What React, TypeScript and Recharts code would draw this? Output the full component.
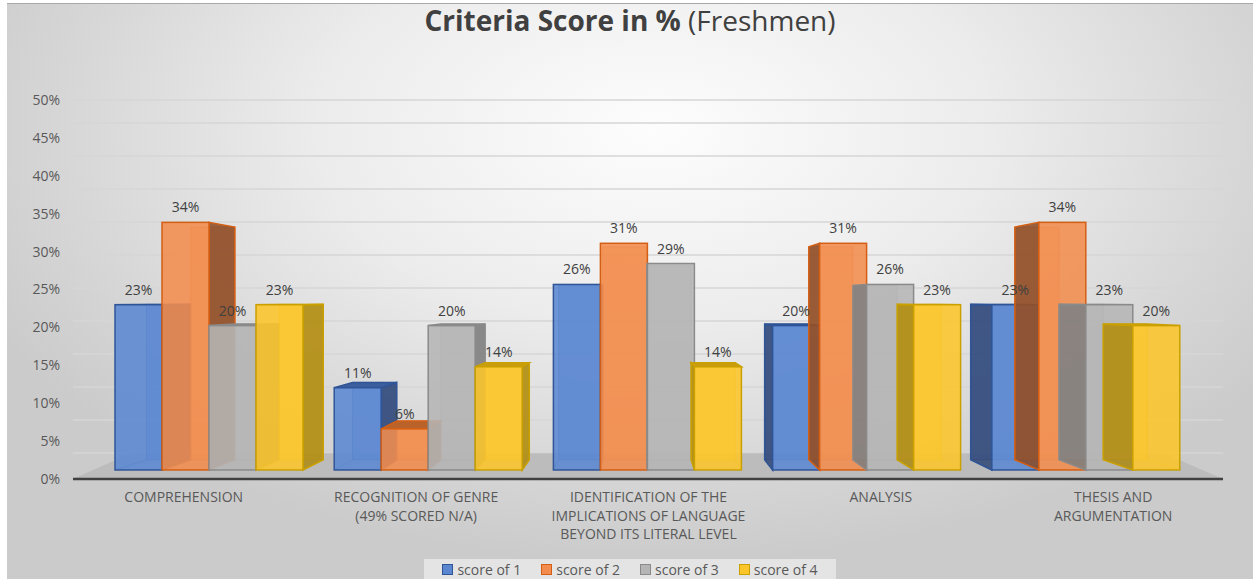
import React from "react";
import {
  BarChart,
  Bar,
  XAxis,
  YAxis,
  CartesianGrid,
  Legend,
  LabelList,
  ReferenceArea,
} from "recharts";

const categories = [
  "Comprehension",
  "Recognition of Genre",
  "Identification",
  "Analysis",
  "Thesis and Argumentation",
];

const tickLines = [
  ["COMPREHENSION"],
  ["RECOGNITION OF GENRE", "(49% SCORED N/A)"],
  ["IDENTIFICATION OF THE", "IMPLICATIONS OF LANGUAGE", "BEYOND ITS LITERAL LEVEL"],
  ["ANALYSIS"],
  ["THESIS AND", "ARGUMENTATION"],
];

// percent of 35 freshmen
const score1 = [22.9, 11.4, 25.7, 20.0, 22.9];
const score2 = [34.3, 5.7, 31.4, 31.4, 34.3];
const score3 = [20.0, 20.0, 28.6, 25.7, 22.9];
const score4 = [22.9, 14.3, 14.3, 22.9, 20.0];

const seriesNames = ["score of 1", "score of 2", "score of 3", "score of 4"];
const pctTicks = [0, 5, 10, 15, 20, 25, 30, 35, 40, 45, 50];

const data = categories.map((name, i) => ({
  name,
  s1: score1[i],
  s2: score2[i],
  s3: score3[i],
  s4: score4[i],
}));

const palettes = [
  { face: "#5b87d1", side: "#2f4775", top: "#3d5e9e", edge: "#2f5597" },
  { face: "#f28d4f", side: "#8a4a24", top: "#b9622a", edge: "#d45f14" },
  { face: "#b5b5b5", side: "#7c7c7c", top: "#8f8f8f", edge: "#8a8a8a" },
  { face: "#fcc62a", side: "#ad8a12", top: "#c99d10", edge: "#c9a000" },
];

// vanishing point for the fake 3d look
const VX = 640;
const VY = 300;
const K = 0.06;
const PAD = 27;

const back = (px, py) => [px + (VX - px) * K, py + (VY - py) * K];
const pts = (arr) => arr.map((p) => p.join(",")).join(" ");

const Box3D = (props) => {
  const { x, y, width, height, pal } = props;
  if (!height || height <= 0) return null;
  const L = x;
  const R = x + width;
  const T = y;
  const B = y + height;
  const bLT = back(L, T);
  const bRT = back(R, T);
  const bLB = back(L, B);
  const bRB = back(R, B);
  let sideFace = null;
  if (R < VX) {
    sideFace = [[R, T], [R, B], bRB, bRT];
  } else if (L > VX) {
    sideFace = [[L, T], [L, B], bLB, bLT];
  }
  const topFace = T > VY ? [[L, T], [R, T], bRT, bLT] : null;
  return (
    <g>
      <polygon
        points={pts([bLT, bRT, bRB, bLB])}
        fill={pal.face}
        fillOpacity={0.5}
        stroke={pal.edge}
        strokeOpacity={0.5}
      />
      {sideFace && (
        <polygon
          points={pts(sideFace)}
          fill={pal.side}
          fillOpacity={0.85}
          stroke={pal.edge}
          strokeWidth={1.5}
        />
      )}
      {topFace && (
        <polygon
          points={pts(topFace)}
          fill={pal.top}
          stroke={pal.edge}
          strokeWidth={1.5}
        />
      )}
      <line x1={L} y1={B} x2={bLB[0]} y2={bLB[1]} stroke={pal.edge} strokeOpacity={0.5} />
      <line x1={R} y1={B} x2={bRB[0]} y2={bRB[1]} stroke={pal.edge} strokeOpacity={0.5} />
      <rect
        x={L}
        y={T}
        width={width}
        height={height}
        fill={pal.face}
        fillOpacity={0.88}
        stroke={pal.edge}
        strokeWidth={1.5}
      />
    </g>
  );
};

const Floor = (props) => {
  const { x, y, width, height } = props;
  const B = y + height;
  const k = height / (B - VY);
  const bk = (px, py) => [px + (VX - px) * k, py + (VY - py) * k];
  // stretch over the axis padding so the floor meets the axis line ends
  const x0 = x - PAD + 2;
  const x1 = x + width + PAD - 2;
  const poly = [[x0, B + 8], [x1, B + 8], bk(x1, B), bk(x0, B)];
  return <polygon points={pts(poly)} fill="#bcbcbc" />;
};

const CategoryTick = (props) => {
  const { x, y, index } = props;
  const lines = tickLines[index] || [];
  const shift = (x - VX) * 0.06;
  return (
    <text
      x={x + shift}
      y={y}
      textAnchor="middle"
      fill="#595959"
      fontSize={14}
      fontFamily="Open Sans"
    >
      {lines.map((ln, i) => (
        <tspan key={i} x={x + shift} dy={i === 0 ? 23 : 18.5}>
          {ln}
        </tspan>
      ))}
    </text>
  );
};

const LegendBox = (props) => {
  const { payload } = props;
  return (
    <div
      style={{
        display: "flex",
        justifyContent: "center",
        alignItems: "center",
        height: 20,
        background: "#e4e4e4",
        fontFamily: "Open Sans",
        fontSize: 14,
        color: "#595959",
      }}
    >
      {(payload || []).map((p, i) => (
        <div
          key={i}
          style={{ display: "flex", alignItems: "center", marginRight: i < 3 ? 20 : 0 }}
        >
          <span
            style={{
              width: 9,
              height: 9,
              background: p.color,
              border: `1px solid ${palettes[i].edge}`,
              marginRight: 4,
            }}
          />
          <span>{p.value}</span>
        </div>
      ))}
    </div>
  );
};

const pctLabel = (v) => `${Math.round(v)}%`;

export default function App() {
  const keys = ["s1", "s2", "s3", "s4"];
  return (
    <div
      style={{
        position: "absolute",
        left: 0,
        top: 0,
        width: 1253,
        height: 579,
        background: "#fff",
        overflow: "hidden",
      }}
    >
      <div
        style={{
          position: "absolute",
          left: 7,
          top: 3,
          width: 1246,
          height: 576,
          borderTop: "1px solid #a8a8a8",
          background:
            "radial-gradient(ellipse 60% 75% at 52% 22%, #fdfdfd 0%, #ececec 45%, #d6d6d6 80%, #cbcbcb 100%)",
        }}
      />
      <div
        style={{
          position: "absolute",
          left: 0,
          top: 2,
          width: 1260,
          textAlign: "center",
          fontFamily: "Open Sans",
          fontSize: 28,
          lineHeight: "36px",
          color: "#404040",
        }}
      >
        <span style={{ fontWeight: 700 }}>Criteria Score in %</span>
        <span> (Freshmen)</span>
      </div>
      <div style={{ position: "absolute", left: 0, top: 0 }}>
        <BarChart
          width={1253}
          height={579}
          data={data}
          margin={{ top: 100, right: 30, left: 0, bottom: 0 }}
          barCategoryGap={15}
          barGap={0}
          style={{ fontFamily: "Open Sans" }}
        >
          <YAxis
            yAxisId="wall"
            hide
            type="number"
            domain={[-3.94, 53.48]}
            ticks={pctTicks}
            allowDataOverflow
          />
          <YAxis
            yAxisId="main"
            hide
            type="number"
            domain={[-1.25, 51.25]}
            allowDataOverflow
          />
          <YAxis
            yAxisId="lbl"
            type="number"
            domain={[0, 50]}
            ticks={pctTicks}
            tickFormatter={(v) => `${v}%`}
            axisLine={false}
            tickLine={false}
            tickSize={0}
            tickMargin={13}
            width={73}
            tick={{ fill: "#595959", fontSize: 14 }}
            allowDataOverflow
          />
          <CartesianGrid
            yAxisId="wall"
            vertical={false}
            stroke="#d6d6d6"
            strokeWidth={1.5}
          />
          <XAxis
            dataKey="name"
            padding={{ left: PAD, right: PAD }}
            height={100}
            tickLine={false}
            tickSize={0}
            tickMargin={0}
            axisLine={{ stroke: "#404040", strokeWidth: 2.5 }}
            tick={<CategoryTick />}
            interval={0}
          />
          <ReferenceArea
            yAxisId="main"
            y1={0}
            y2={2.33}
            shape={<Floor />}
            ifOverflow="visible"
          />
          {keys.map((k, i) => (
            <Bar
              key={k}
              yAxisId="main"
              dataKey={k}
              name={seriesNames[i]}
              fill={palettes[i].face}
              isAnimationActive={false}
              shape={(p) => <Box3D {...p} pal={palettes[i]} />}
            >
              <LabelList
                dataKey={k}
                position="top"
                offset={10}
                formatter={pctLabel}
                fill="#404040"
                fontSize={14}
              />
            </Bar>
          ))}
          <Legend
            verticalAlign="middle"
            align="center"
            layout="horizontal"
            content={<LegendBox />}
            wrapperStyle={{ top: 559, left: 424, width: 412, height: 20 }}
          />
        </BarChart>
      </div>
    </div>
  );
}
